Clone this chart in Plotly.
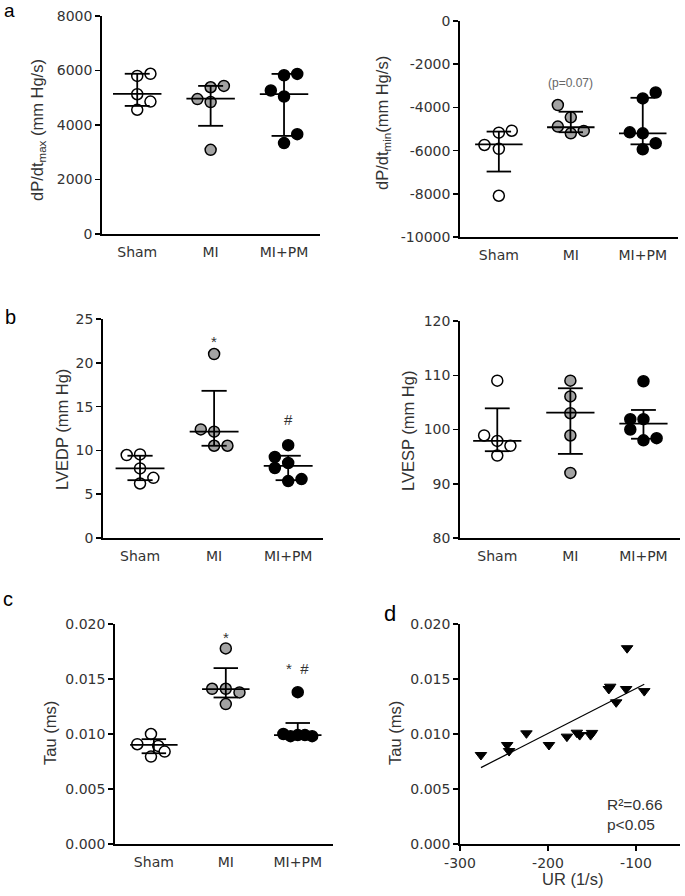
import numpy as np
import plotly.graph_objects as go

W, H = 685, 896

categories = ["Sham", "MI", "MI+PM"]

# ---- panel a (left): dP/dt max (mm Hg/s)
dpmax_sham = [5880, 5800, 5130, 4860, 4560]
dpmax_mi = [5435, 5385, 4950, 4840, 3090]
dpmax_mipm = [5825, 5875, 5265, 5045, 3665, 3335]
dpmax_center = [5140, 4970, 5130]
dpmax_upper = [5880, 5435, 5875]
dpmax_lower = [4700, 3970, 3600]

# ---- panel a (right): dP/dt min (mm Hg/s)
dpmin_sham = [-5080, -5170, -5740, -5920, -8090]
dpmin_mi = [-3890, -4460, -4890, -5200, -5090]
dpmin_mipm = [-3310, -3585, -5155, -5200, -5660, -5940]
dpmin_center = [-5710, -4920, -5200]
dpmin_upper = [-5120, -4200, -3555]
dpmin_lower = [-6970, -5150, -5710]

# ---- panel b (left): LVEDP (mm Hg)
lvedp_sham = [9.47, 9.54, 7.94, 6.87, 6.22]
lvedp_mi = [21.0, 12.4, 12.14, 10.53, 10.53]
lvedp_mipm = [10.6, 9.25, 7.99, 8.56, 6.5, 6.73]
lvedp_center = [7.94, 12.14, 8.24]
lvedp_upper = [9.39, 16.8, 9.39]
lvedp_lower = [6.6, 10.53, 6.6]

# ---- panel b (right): LVESP (mm Hg)
lvesp_sham = [109.0, 98.9, 97.9, 97.0, 95.2]
lvesp_mi = [109.0, 106.1, 103.0, 98.9, 92.0]
lvesp_mipm = [108.9, 101.9, 101.9, 100.0, 98.0, 98.4]
lvesp_center = [97.9, 103.1, 101.1]
lvesp_upper = [103.9, 107.6, 103.6]
lvesp_lower = [96.0, 95.5, 98.3]

# ---- panel c: Tau (ms)
tau_sham = [0.0100, 0.00907, 0.00892, 0.0084, 0.00795]
tau_mi = [0.01778, 0.01411, 0.01411, 0.01378, 0.01272]
tau_mipm = [0.0138, 0.0100, 0.0098, 0.0099, 0.0099, 0.0098]
tau_center = [0.00901, 0.01408, 0.0099]
tau_upper = [0.00953, 0.01599, 0.0110]
tau_lower = [0.00825, 0.01332, 0.0097]

# ---- panel d: Tau vs UR
ur_values = [-276.2, -246.4, -244.2, -224.5, -198.9, -178.5, -167.2, -164.0,
             -151.6, -150.0, -130.9, -129.3, -122.5, -111.2, -110.1, -90.6]
tau_corr = [0.00809, 0.0090, 0.00845, 0.01006, 0.0090, 0.00976, 0.01012, 0.0099,
            0.0099, 0.0101, 0.01409, 0.0143, 0.01288, 0.01409, 0.0178, 0.0139]

# ---- tick labels
ticks_dpmax = [0, 2000, 4000, 6000, 8000]
ticks_dpmin = [-10000, -8000, -6000, -4000, -2000, 0]
ticks_lvedp = [0, 5, 10, 15, 20, 25]
ticks_lvesp = [80, 90, 100, 110, 120]
ticks_tau = [0.0, 0.005, 0.010, 0.015, 0.020]
ticktext_tau = ["0.000", "0.005", "0.010", "0.015", "0.020"]
ticks_ur = [-300, -200, -100]

# ---- jitter offsets (positions, category units)
off_a1 = [[0.18, 0, 0, 0.18, 0], [0.18, 0, -0.18, 0, 0], [0, 0.18, -0.18, 0, 0.18, 0]]
off_a2 = [[0.18, 0, -0.2, 0, 0], [-0.18, 0, -0.18, 0, 0.18], [0.18, 0, -0.18, 0, 0.18, 0]]
off_b1 = [[-0.18, 0, 0, 0.18, 0], [0, -0.18, 0, 0, 0.18], [0, -0.18, -0.18, 0, 0, 0.18]]
off_b2 = [[0, -0.18, 0, 0.18, 0], [0, 0, 0, 0, 0], [0, -0.18, 0, -0.18, 0, 0.18]]
off_c = [[-0.04, -0.23, 0.06, 0.15, -0.04], [0, -0.19, 0, 0.19, 0],
         [0, -0.2, -0.1, 0, 0.1, 0.2]]

FILLS = ["white", "#a3a3a3", "black"]
TXT = "#333333"
TICKFONT = dict(family="DejaVu Sans", size=14, color=TXT)
TITLEFONT = dict(family="Liberation Sans, Arial", size=16.5, color=TXT)


def xd(a, b):
    return [a / W, b / W]


def yd(top, bottom):
    return [1 - bottom / H, 1 - top / H]


fig = go.Figure()


def dot_panel(n, groups, offs, center, upper, lower):
    xa = "x" if n == 1 else f"x{n}"
    ya = "y" if n == 1 else f"y{n}"
    for i, (vals, off) in enumerate(zip(groups, offs)):
        xs = [i + 1 + o for o in off]
        fig.add_trace(go.Scatter(
            x=xs, y=vals, mode="markers", xaxis=xa, yaxis=ya, showlegend=False,
            cliponaxis=False,
            marker=dict(size=11, color=FILLS[i], line=dict(color="black", width=1.5))))
    lx, ly = [], []
    for i in range(3):
        c = i + 1
        lx += [c - 0.33, c + 0.33, None, c, c, None,
               c - 0.17, c + 0.17, None, c - 0.17, c + 0.17, None]
        ly += [center[i], center[i], None, lower[i], upper[i], None,
               upper[i], upper[i], None, lower[i], lower[i], None]
    fig.add_trace(go.Scatter(x=lx, y=ly, mode="lines", xaxis=xa, yaxis=ya,
                             showlegend=False, cliponaxis=False,
                             line=dict(color="black", width=1.8)))


dot_panel(1, [dpmax_sham, dpmax_mi, dpmax_mipm], off_a1, dpmax_center, dpmax_upper, dpmax_lower)
dot_panel(2, [dpmin_sham, dpmin_mi, dpmin_mipm], off_a2, dpmin_center, dpmin_upper, dpmin_lower)
dot_panel(3, [lvedp_sham, lvedp_mi, lvedp_mipm], off_b1, lvedp_center, lvedp_upper, lvedp_lower)
dot_panel(4, [lvesp_sham, lvesp_mi, lvesp_mipm], off_b2, lvesp_center, lvesp_upper, lvesp_lower)
dot_panel(5, [tau_sham, tau_mi, tau_mipm], off_c, tau_center, tau_upper, tau_lower)

# panel d scatter + regression
fig.add_trace(go.Scatter(x=ur_values, y=tau_corr, mode="markers", xaxis="x6", yaxis="y6",
                         showlegend=False, cliponaxis=False,
                         marker=dict(symbol="triangle-down", size=10, color="black",
                                     line=dict(color="black", width=1))))
slope, intercept = np.polyfit(ur_values, tau_corr, 1)
xfit = np.array([min(ur_values), max(ur_values)])
fig.add_trace(go.Scatter(x=xfit, y=slope * xfit + intercept, mode="lines", xaxis="x6",
                         yaxis="y6", showlegend=False, line=dict(color="black", width=1.2)))

# ---- axes
panels = {
    1: dict(x=(102, 320), y=(16, 234), xr=[0.52, 3.49], yr=[0, 8000],
            yt=ticks_dpmax, ytt=[str(v) for v in ticks_dpmax]),
    2: dict(x=(460, 678), y=(21, 237), xr=[0.46, 3.49], yr=[-10000, 0],
            yt=ticks_dpmin, ytt=[str(v) for v in ticks_dpmin]),
    3: dict(x=(103, 323), y=(319, 538), xr=[0.5, 3.47], yr=[0, 25],
            yt=ticks_lvedp, ytt=[str(v) for v in ticks_lvedp]),
    4: dict(x=(460, 680), y=(321, 538), xr=[0.49, 3.5], yr=[80, 120],
            yt=ticks_lvesp, ytt=[str(v) for v in ticks_lvesp]),
    5: dict(x=(115, 333), y=(624, 844), xr=[0.46, 3.49], yr=[0, 0.02],
            yt=ticks_tau, ytt=ticktext_tau),
    6: dict(x=(460, 680), y=(624, 844), xr=[-300, -50], yr=[0, 0.02],
            yt=ticks_tau, ytt=ticktext_tau),
}

layout = {}
for n, p in panels.items():
    xk = "xaxis" if n == 1 else f"xaxis{n}"
    yk = "yaxis" if n == 1 else f"yaxis{n}"
    ya = "y" if n == 1 else f"y{n}"
    xa = "x" if n == 1 else f"x{n}"
    if n == 6:
        xt = dict(tickvals=ticks_ur, ticktext=[str(v) for v in ticks_ur],
                  ticks="outside", ticklen=5, tickwidth=1.5, tickcolor="black")
    else:
        xt = dict(tickvals=[1, 2, 3], ticktext=categories, ticks="outside",
                  ticklen=4, tickcolor="rgba(0,0,0,0)")
    layout[xk] = dict(domain=xd(*p["x"]), anchor=ya, range=p["xr"], showline=True,
                      linecolor="black", linewidth=1.8, showgrid=False, zeroline=False,
                      tickfont=TICKFONT, fixedrange=True, automargin=False, **xt)
    layout[yk] = dict(domain=yd(*p["y"]), anchor=xa, range=p["yr"], showline=True,
                      linecolor="black", linewidth=1.8, showgrid=False, zeroline=False,
                      tickvals=p["yt"], ticktext=p["ytt"], ticks="outside", ticklen=5,
                      tickwidth=1.5, tickcolor="black", tickfont=TICKFONT, fixedrange=True,
                      automargin=False)

fig.update_layout(width=W, height=H,
                  margin=dict(l=0, r=0, t=0, b=0, pad=0, autoexpand=False),
                  paper_bgcolor="white", plot_bgcolor="white", hovermode=False, **layout)

ann = []


def ptitle(text, xpx, ypx):
    ann.append(dict(text=text, x=xpx / W, y=1 - ypx / H, xref="paper", yref="paper",
                    textangle=-90, showarrow=False, font=TITLEFONT,
                    xanchor="center", yanchor="middle"))


ptitle("dP/dt<sub>max</sub> (mm Hg/s)", 38, 130)
ptitle("dP/dt<sub>min</sub>(mm Hg/s)", 383, 123)
ptitle("LVEDP (mm Hg)", 62, 430)
ptitle("LVESP (mm Hg)", 408, 431)
ptitle("Tau (ms)", 50, 733)
ptitle("Tau (ms)", 395, 733)

ann.append(dict(text="UR (1/s)", x=572 / W, y=1 - 879 / H, xref="paper", yref="paper",
                showarrow=False, font=dict(family="Liberation Sans, Arial", size=16.5, color=TXT),
                xanchor="center", yanchor="middle"))

for t, xp, yp, sz in [("a", 9, 10.5, 19), ("b", 10, 317, 20), ("c", 8, 599, 20), ("d", 390, 613, 22)]:
    ann.append(dict(text=t, x=xp / W, y=1 - yp / H, xref="paper", yref="paper",
                    showarrow=False, font=dict(family="Liberation Sans, Arial", size=sz, color="black"),
                    xanchor="center", yanchor="middle"))

STAT = dict(family="Liberation Sans, Arial", size=15, color=TXT)
ann.append(dict(text="*", x=2, y=22.9, xref="x3", yref="y3", showarrow=False, font=STAT, yshift=-4))
ann.append(dict(text="#", x=3, y=13.5, xref="x3", yref="y3", showarrow=False, font=STAT))
ann.append(dict(text="*", x=2, y=0.0191, xref="x5", yref="y5", showarrow=False, font=STAT, yshift=-4))
ann.append(dict(text="*  #", x=3, y=0.0160, xref="x5", yref="y5", showarrow=False, font=STAT))
ann.append(dict(text="(p=0.07)", x=2, y=-2890, xref="x2", yref="y2", showarrow=False,
                font=dict(family="Liberation Sans, Arial", size=12, color="#666666")))
ann.append(dict(text="R\u00b2=0.66<br>p<0.05", x=605 / W, y=1 - 814 / H, xref="paper", yref="paper",
                showarrow=False, align="left", xanchor="left", yanchor="middle",
                font=dict(family="Liberation Sans, Arial", size=15.5, color=TXT)))

fig.update_layout(annotations=ann)
fig.write_html("out.html", config={"displayModeBar": False, "staticPlot": True},
               post_script="document.body.style.margin='0px';document.body.style.overflow='hidden';")
